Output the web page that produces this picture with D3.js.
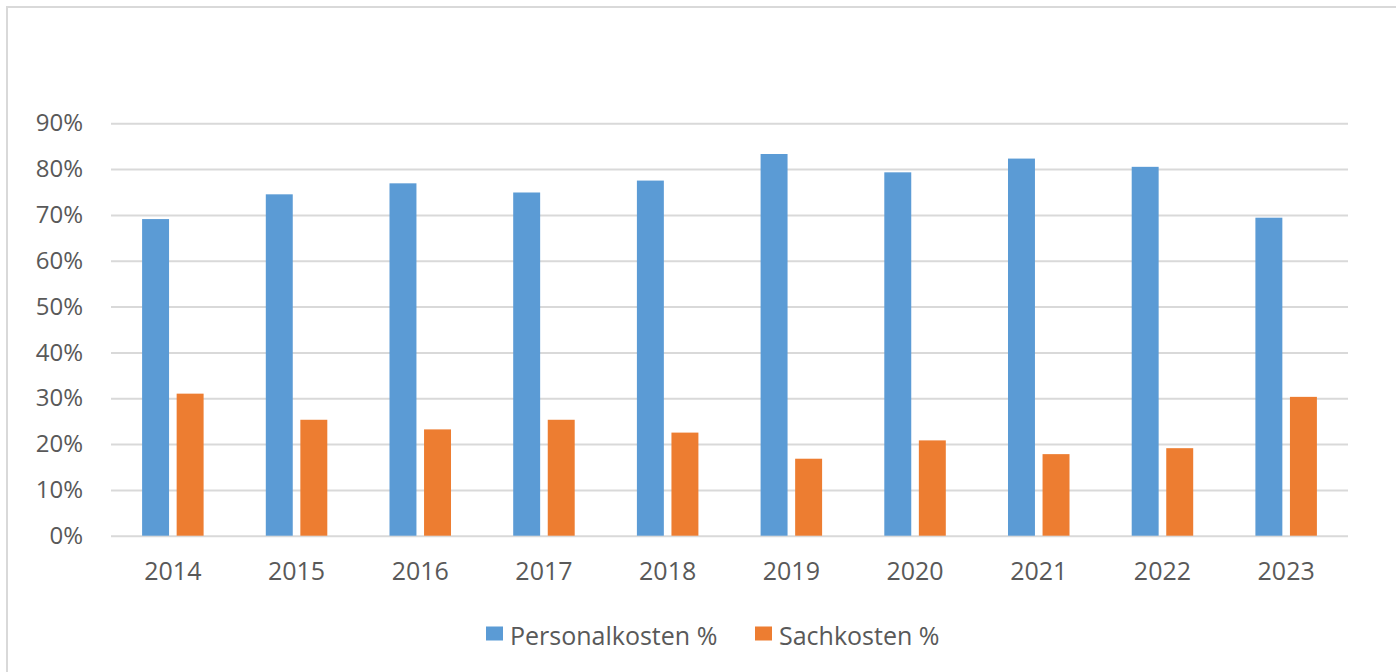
<!DOCTYPE html>
<html>
<head>
<meta charset="utf-8">
<script src="https://cdn.jsdelivr.net/npm/d3@7"></script>
<style>
    body { margin: 0; background: #fff; }
    svg { display: block; }
    text { font-family: "Open Sans", "Noto Sans", sans-serif; fill: #595959; }
</style>
</head>
<body>
<div class="graph-goes-here"></div>
<script>
// chart values
var years = ["2014", "2015", "2016", "2017", "2018", "2019", "2020", "2021", "2022", "2023"];
var personalkosten = [0.691, 0.745, 0.769, 0.749, 0.775, 0.833, 0.793, 0.823, 0.805, 0.694];
var sachkosten = [0.310, 0.253, 0.232, 0.253, 0.225, 0.168, 0.208, 0.178, 0.191, 0.303];
var seriesNames = ["Personalkosten %", "Sachkosten %"];
var seriesColors = ["#5b9bd5", "#ed7d31"];
var yTicks = [0, 0.1, 0.2, 0.3, 0.4, 0.5, 0.6, 0.7, 0.8, 0.9];

var W = 1396, H = 672;
var margin = { top: 123.3, right: 48, bottom: 136.3, left: 111 },
    width = W - margin.left - margin.right,
    height = H - margin.top - margin.bottom;

var root = d3.select(".graph-goes-here")
    .append("svg")
    .attr("width", W)
    .attr("height", H);

// chart area frame (right and bottom edges fall outside the picture)
root.append("rect")
    .attr("x", 7).attr("y", 7)
    .attr("width", W + 20).attr("height", H + 20)
    .attr("fill", "none")
    .attr("stroke", "#d9d9d9")
    .attr("stroke-width", 2);

var svg = root.append("g")
    .attr("transform", "translate(" + margin.left + "," + margin.top + ")");

var xScale = d3.scaleBand().domain(years).range([0, width]).padding(0);
var subScale = d3.scaleBand().domain(seriesNames).range([0, xScale.bandwidth()])
    .paddingInner(0.22).paddingOuter(0.9);
var yScale = d3.scaleLinear().domain([0, 0.9]).range([height, 0]);

// gridlines + y labels
var yAxis = svg.append("g")
    .call(d3.axisLeft(yScale).tickValues(yTicks).tickSize(-width).tickPadding(28)
        .tickFormat(d3.format(".0%")));
yAxis.select(".domain").remove();
yAxis.selectAll(".tick line").attr("stroke", "#d9d9d9").attr("stroke-width", 2);
yAxis.selectAll(".tick text").style("font-size", "24px").style("fill", "#595959");

// x labels
var xAxis = svg.append("g")
    .attr("transform", "translate(0," + height + ")")
    .call(d3.axisBottom(xScale).tickSize(0).tickPadding(27));
xAxis.select(".domain").remove();
xAxis.selectAll(".tick text").style("font-size", "25px").style("fill", "#595959");

var rows = years.map((y, i) => ({ year: y, values: [personalkosten[i], sachkosten[i]] }));

var groups = svg.append("g").selectAll("g")
    .data(rows)
    .join("g")
    .attr("transform", d => "translate(" + xScale(d.year) + ",0)");

groups.selectAll("rect")
    .data(d => d.values.map((v, j) => ({ key: seriesNames[j], value: v, color: seriesColors[j] })))
    .join("rect")
    .attr("x", d => subScale(d.key))
    .attr("width", subScale.bandwidth())
    .attr("y", d => yScale(d.value))
    .attr("height", d => height - yScale(d.value))
    .attr("fill", d => d.color);

// legend
var legendX = [486, 755];
var legend = root.append("g");
seriesNames.forEach((name, i) => {
    legend.append("rect")
        .attr("x", legendX[i]).attr("y", 626.5)
        .attr("width", 17).attr("height", 14)
        .attr("fill", seriesColors[i]);
    legend.append("text")
        .attr("x", legendX[i] + 24).attr("y", 635)
        .attr("dominant-baseline", "central")
        .style("font-size", "25px")
        .text(name);
});
</script>
</body>
</html>
